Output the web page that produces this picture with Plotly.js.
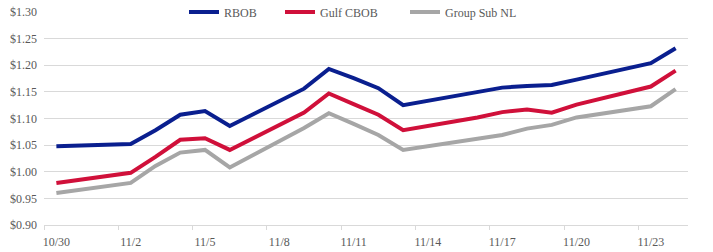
<!DOCTYPE html>
<html>
<head>
<meta charset="utf-8">
<script src="https://cdn.plot.ly/plotly-3.0.1.min.js"></script>
<style>html,body{margin:0;padding:0;background:#fff;}#chart{width:713px;height:252px;}</style>
</head>
<body>
<div id="chart"></div>
<script>
const dates = ['2020-10-30','2020-11-02','2020-11-03','2020-11-04','2020-11-05','2020-11-06',
  '2020-11-09','2020-11-10','2020-11-11','2020-11-12','2020-11-13','2020-11-16','2020-11-17',
  '2020-11-18','2020-11-19','2020-11-20','2020-11-23','2020-11-24'];
const rbob =      [1.048,1.052,1.078,1.107,1.114,1.086,1.156,1.193,1.176,1.157,1.125,1.149,1.158,1.161,1.163,1.173,1.204,1.232];
const gulfCbob =  [0.979,0.998,1.028,1.060,1.063,1.041,1.111,1.147,1.127,1.107,1.078,1.102,1.112,1.117,1.111,1.126,1.160,1.190];
const groupSub =  [0.960,0.979,1.011,1.036,1.041,1.008,1.082,1.110,1.090,1.069,1.041,1.061,1.069,1.081,1.088,1.102,1.123,1.155];
const seriesNames = ['RBOB','Gulf CBOB','Group Sub NL'];
const tickVals = ['2020-10-30','2020-11-02','2020-11-05','2020-11-08','2020-11-11','2020-11-14','2020-11-17','2020-11-20','2020-11-23'];
const tickText = ['10/30','11/2','11/5','11/8','11/11','11/14','11/17','11/20','11/23'];
const yTickVals = [0.90,0.95,1.00,1.05,1.10,1.15,1.20,1.25,1.30];
const yTickText = ['$0.90','$0.95','$1.00','$1.05','$1.10','$1.15','$1.20','$1.25','$1.30'];

const colors = ['#0a1f8f','#d0103a','#a6a6a6'];
const legendIds = ['legend','legend2','legend3'];
const data = [rbob, gulfCbob, groupSub].map((v,i)=>({
  x: dates, y: v, type:'scatter', mode:'lines', name: seriesNames[i],
  legend: legendIds[i],
  line:{color:colors[i], width:4}
}));
const serif = 'Liberation Serif, DejaVu Serif, serif';
const legFont = {family:serif, size:12, color:'#595959'};
function leg(xpx){
  return {orientation:'h', x:(xpx-44)/644, xanchor:'left', y:1.0, yanchor:'middle',
    bgcolor:'rgba(0,0,0,0)', font:legFont, itemwidth:30};
}
const layout = {
  width:713, height:252,
  margin:{l:44, r:25, t:12, b:27, autoexpand:false},
  paper_bgcolor:'#fff', plot_bgcolor:'#fff',
  showlegend:true,
  legend: leg(184), legend2: leg(280), legend3: leg(405),
  xaxis:{type:'date', range:['2020-10-29 12:00','2020-11-24 12:00'],
    tickvals:tickVals, ticktext:tickText, ticks:'', showgrid:false,
    showline:true, linecolor:'#d9d9d9', linewidth:1, zeroline:false,
    tickfont:{family:serif, size:12, color:'#595959'}, ticklabelstandoff:6,
    minor:{ticks:'outside', ticklen:4, tickcolor:'#d9d9d9', tick0:'2020-10-29 12:00', dtick:3*86400000, showgrid:false}},
  yaxis:{range:[0.90,1.30], tickvals:yTickVals, ticktext:yTickText, ticks:'',
    showgrid:true, gridcolor:'#d9d9d9', gridwidth:1, zeroline:false, showline:false,
    tickfont:{family:serif, size:12, color:'#595959'}, ticklabelstandoff:6}
};
Plotly.newPlot('chart', data, layout, {staticPlot:true});
</script>
</body>
</html>
